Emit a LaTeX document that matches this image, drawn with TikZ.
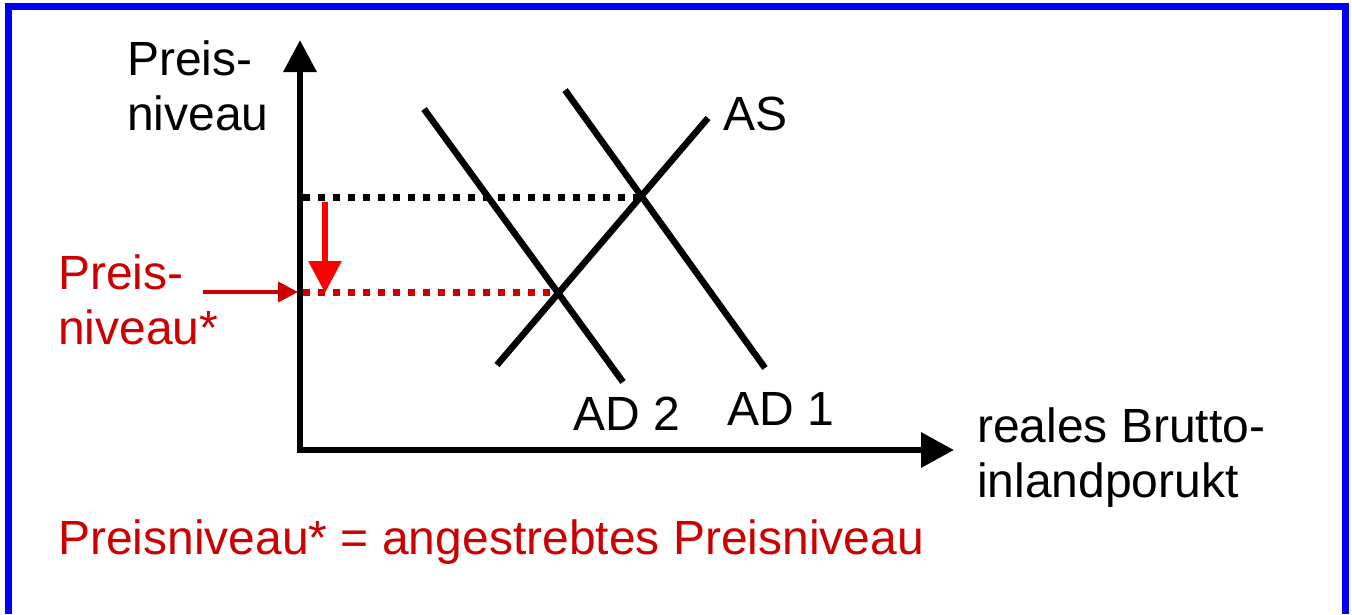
\documentclass[tikz,border=0pt]{standalone}
\usepackage{fontspec}
\setmainfont{Liberation Sans}
\usetikzlibrary{arrows.meta}
\definecolor{dred}{RGB}{204,0,0}
\definecolor{bred}{RGB}{255,0,0}
\definecolor{bblue}{RGB}{0,0,255}
\begin{document}
\begin{tikzpicture}[x=1pt,y=-1pt,
  lbl/.style={font=\fontsize{48}{55}\selectfont, inner sep=0pt, anchor=base west, align=left},
  axisline/.style={line width=6.5pt, line join=miter},
  curve/.style={line width=6.5pt},
  dotline/.style={line width=7pt, dash pattern=on 6.5pt off 8.5pt}]
\useasboundingbox (0,0) rectangle (1352,614);
% frame
\draw[bblue, line width=7pt] (8.5,614) -- (8.5,6.5) -- (1345,6.5) -- (1345,614);
% coordinates
\coordinate (O) at (300,450);
\coordinate (ytip) at (300,40);
\coordinate (xtip) at (954,450);
\coordinate (E1) at (640.5,197);
\coordinate (E2) at (558,292);
\coordinate (Y1) at (303,197);
\coordinate (Y2) at (303,292);
\coordinate (ASa) at (497,365);
\coordinate (ASb) at (708,118);
\coordinate (AD1a) at (565,90);
\coordinate (AD1b) at (765,368);
\coordinate (AD2a) at (424,109);
\coordinate (AD2b) at (623,382);
\coordinate (Rs) at (325,202);
\coordinate (Re) at (325,293);
\coordinate (Hs) at (203,292);
\coordinate (He) at (298,292);
% dotted guide lines
\draw[dotline] (Y1) -- (E1);
\draw[dotline, dred] (Y2) -- (E2);
% curves
\draw[curve] (ASa) -- (ASb);
\draw[curve] (AD1a) -- (AD1b);
\draw[curve] (AD2a) -- (AD2b);
% axes
\draw[axisline, {Triangle[length=32pt,width=32pt]}-{Triangle[length=33pt,width=34pt]}] (ytip) -- (O) -- (xtip);
% red arrows
\draw[bred, line width=6pt, -{Triangle[length=32pt,width=32pt]}] (Rs) -- (Re);
\draw[dred, line width=4pt, -{Triangle[length=20pt,width=20pt]}] (Hs) -- (He);
% labels
\node[lbl] (ylab) at (127,130) {Preis-\\niveau};
\node[lbl, text=dred] (plab) at (58,344) {Preis-\\niveau*};
\node[lbl] (xlab) at (977,497) {reales Brutto-\\inlandporukt};
\node[lbl] (aslab) at (723,130) {AS};
\node[lbl] (ad2lab) at (573,430) {AD 2};
\node[lbl] (ad1lab) at (727,425) {AD 1};
\node[lbl, text=dred] (note) at (58,554) {Preisniveau* = angestrebtes Preisniveau};
\end{tikzpicture}
\end{document}
